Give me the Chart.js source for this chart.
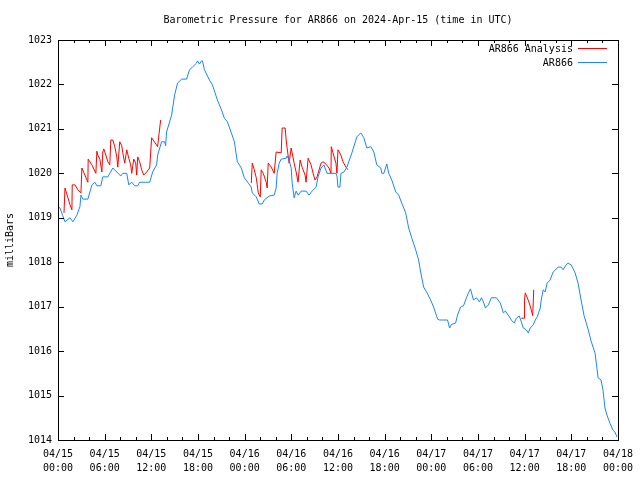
<!DOCTYPE html>
<html><head><meta charset="utf-8">
<script src="https://cdn.jsdelivr.net/npm/chart.js@4/dist/chart.umd.min.js"></script>
<style>html,body{margin:0;padding:0;background:#fff;} canvas{display:block;}</style>
</head><body>
<canvas id="c" width="640" height="480"></canvas>
<script>
// Hours since 2024-04-15 00:00 UTC
const blueHours = [
  0.0,0.26,0.6,0.90,1.54,1.92,2.43,2.82,2.95,3.20,
  3.84,4.36,4.74,5.00,5.51,5.76,6.41,7.05,7.56,8.07,
  8.33,8.84,9.10,9.48,9.86,10.25,10.50,11.79,12.17,12.68,
  12.81,13.32,13.71,13.84,13.96,14.61,14.99,15.37,15.89,16.53,
  16.91,17.29,17.81,17.94,18.19,18.45,18.58,18.83,19.47,19.86,
  20.50,21.01,21.39,21.78,22.29,22.68,23.06,23.57,23.96,24.47,
  24.85,24.98,25.49,25.88,26.26,26.52,27.16,27.80,28.05,28.18,
  28.44,28.70,29.34,29.46,29.72,29.98,30.11,30.36,30.62,30.87,
  31.26,31.90,32.28,32.67,33.18,33.44,33.82,34.20,34.59,35.74,
  35.87,36.00,36.25,36.38,36.77,37.15,37.79,38.43,38.94,39.33,
  39.71,40.23,40.61,40.99,41.51,41.64,41.89,42.28,42.53,42.92,
  43.43,43.81,44.20,44.71,45.09,45.48,45.99,46.37,46.63,47.02,
  47.40,47.91,48.30,48.81,49.07,50.09,50.35,50.60,51.12,51.37,
  51.76,52.14,52.52,52.78,53.04,53.42,53.81,54.19,54.45,54.70,
  54.96,55.34,55.73,56.37,56.88,57.26,57.52,57.90,58.29,58.67,
  58.93,59.31,59.57,59.83,60.21,60.47,60.72,61.11,61.37,61.62,
  62.01,62.13,62.39,62.64,62.90,63.28,63.67,64.31,64.69,64.95,
  65.33,65.59,65.98,66.49,66.87,67.26,67.64,68.15,68.54,69.05,
  69.31,69.44,69.82,70.07,70.33,70.59,70.97,71.36,71.61,71.87
];
const bluePressure = [
  1019.25,1019.22,1019.05,1018.91,1019.0,1018.91,1019.06,1019.25,1019.51,1019.42,
  1019.42,1019.74,1019.8,1019.72,1019.72,1019.92,1019.92,1020.12,1020.03,1019.94,
  1020.0,1020.0,1019.74,1019.8,1019.72,1019.72,1019.8,1019.8,1020.03,1020.19,
  1020.41,1020.71,1020.71,1020.62,1020.93,1021.31,1021.76,1022.03,1022.12,1022.12,
  1022.33,1022.39,1022.48,1022.53,1022.46,1022.53,1022.53,1022.33,1022.1,1021.99,
  1021.65,1021.43,1021.24,1021.16,1020.91,1020.71,1020.26,1020.12,1019.9,1019.78,
  1019.69,1019.56,1019.47,1019.31,1019.31,1019.4,1019.49,1019.51,1019.67,1020.0,
  1020.23,1020.32,1020.34,1020.39,1020.3,1020.12,1019.78,1019.45,1019.6,1019.51,
  1019.6,1019.6,1019.51,1019.6,1019.69,1019.92,1020.12,1020.19,1020.0,1020.0,
  1019.94,1019.69,1019.69,1020.0,1020.03,1020.14,1020.46,1020.82,1020.91,1020.8,
  1020.57,1020.6,1020.48,1020.19,1020.12,1020.0,1020.0,1020.21,1020.0,1019.85,
  1019.58,1019.51,1019.33,1019.11,1018.77,1018.55,1018.28,1018.05,1017.78,1017.44,
  1017.33,1017.15,1016.99,1016.72,1016.7,1016.7,1016.52,1016.6,1016.63,1016.81,
  1016.99,1017.02,1017.2,1017.31,1017.4,1017.15,1017.2,1017.11,1017.2,1017.11,
  1016.97,1017.04,1017.2,1017.2,1017.08,1016.86,1016.9,1016.81,1016.7,1016.63,
  1016.74,1016.79,1016.66,1016.52,1016.48,1016.41,1016.52,1016.59,1016.7,1016.77,
  1016.97,1017.15,1017.38,1017.33,1017.53,1017.6,1017.78,1017.89,1017.89,1017.83,
  1017.94,1017.98,1017.94,1017.76,1017.53,1017.15,1016.8,1016.5,1016.23,1015.96,
  1015.6,1015.4,1015.35,1015.13,1014.72,1014.56,1014.38,1014.22,1014.18,1014.07
];
const redHours = [
  0.77,0.90,1.28,1.54,1.79,1.83,2.18,2.56,2.95,3.07,
  3.46,3.84,3.88,4.36,4.87,5.00,5.12,5.38,5.64,5.76,
  5.89,6.15,6.41,6.66,6.79,7.05,7.30,7.56,7.69,7.94,
  8.20,8.33,8.58,8.84,9.10,9.35,9.48,9.74,9.99,10.12,
  10.25,10.50,10.76,11.02,11.40,11.79,12.04,12.81,13.0,13.2,
  18.0,
  24.85,24.98,25.24,25.49,25.62,25.75,26.01,26.13,26.39,26.77,
  26.90,27.03,27.42,27.80,28.05,28.70,28.82,29.21,29.34,29.46,
  29.72,29.98,30.11,30.36,30.62,30.87,31.13,31.39,31.77,31.90,
  32.16,32.54,32.80,33.05,33.31,33.82,34.08,34.33,34.85,35.10,
  35.14,35.36,35.74,35.87,36.00,36.38,36.64,37.03,37.28,
  48.0,
  59.57,59.95,59.99,60.08,60.34,60.60,60.85,61.04,61.17
];
const redPressure = [
  1019.11,1019.67,1019.45,1019.29,1019.18,1019.74,1019.74,1019.63,1019.56,1020.12,
  1019.96,1019.8,1020.32,1020.19,1020.0,1020.5,1020.41,1020.32,1020.03,1020.48,
  1020.55,1020.41,1020.26,1020.19,1020.75,1020.75,1020.6,1020.37,1020.14,1020.71,
  1020.62,1020.46,1020.23,1020.53,1020.34,1020.19,1020.0,1020.32,1020.23,1019.96,
  1020.37,1020.26,1020.08,1019.96,1020.03,1020.12,1020.8,1020.6,1020.9,1021.2,
  null,
  1019.78,1020.23,1020.08,1019.9,1019.74,1019.56,1019.47,1020.08,1020.0,1019.8,
  1019.67,1020.23,1020.14,1020.0,1020.48,1020.46,1021.02,1021.02,1020.75,1020.57,
  1020.23,1020.57,1020.46,1020.23,1020.03,1019.8,1020.3,1020.14,1019.96,1019.8,
  1020.34,1020.19,1020.0,1019.85,1019.92,1020.23,1020.26,1020.23,1020.12,1020.0,
  1020.6,1020.46,1020.23,1020.0,1020.53,1020.41,1020.26,1020.14,1020.08,
  null,
  1016.74,1016.74,1017.15,1017.31,1017.2,1017.08,1016.93,1016.8,1017.38
];
const xTickDates = ['04/15','04/15','04/15','04/15','04/16','04/16','04/16','04/16','04/17','04/17','04/17','04/17','04/18'];
const xTickTimes = ['00:00','06:00','12:00','18:00','00:00','06:00','12:00','18:00','00:00','06:00','12:00','18:00','00:00'];
const seriesLabels = ['AR866 Analysis', 'AR866'];
const seriesColors = ['#ff0000', '#1a85ff'];

const FONT = 'DejaVu Sans Mono';
Chart.defaults.font.family = FONT;
Chart.defaults.font.size = 10;
Chart.defaults.color = '#000';

const toPts = (xs, ys) => xs.map((h, i) => ({x: h, y: ys[i]}));

const framePlugin = {
  id: 'frame',
  afterDraw(chart) {
    const {ctx, chartArea: a, scales: {x, y}} = chart;
    ctx.save();
    ctx.strokeStyle = '#000';
    ctx.lineWidth = 1;
    ctx.beginPath();
    for (let h = x.min; h <= x.max; h += 2) {
      const px = Math.round(x.getPixelForValue(h)) + 0.5;
      const len = (h % 6 === 0) ? 6 : 3;
      ctx.moveTo(px, a.bottom); ctx.lineTo(px, a.bottom - len);
      ctx.moveTo(px, a.top); ctx.lineTo(px, a.top + len);
    }
    for (const t of y.ticks) {
      const py = Math.round(y.getPixelForValue(t.value)) + 0.5;
      ctx.moveTo(a.left, py); ctx.lineTo(a.left + 6, py);
      ctx.moveTo(a.right, py); ctx.lineTo(a.right - 6, py);
    }
    ctx.stroke();
    ctx.strokeRect(Math.round(a.left) + 0.5, Math.round(a.top) + 0.5,
                   Math.round(a.right - a.left), Math.round(a.bottom - a.top));
    // key (legend), gnuplot style: text then line sample, top right
    ctx.font = '10px "' + FONT + '"';
    ctx.textAlign = 'right';
    ctx.textBaseline = 'middle';
    chart.data.datasets.forEach((ds, i) => {
      const yy = Math.round(a.top + 8 + 14 * i) + 0.5;
      const x2 = a.right - 11, x1 = x2 - 29;
      ctx.strokeStyle = ds.borderColor;
      ctx.beginPath(); ctx.moveTo(x1, yy); ctx.lineTo(x2, yy); ctx.stroke();
      ctx.fillStyle = '#000';
      ctx.fillText(ds.label, x1 - 5, yy + 1);
    });
    ctx.restore();
  }
};

new Chart(document.getElementById('c'), {
  type: 'line',
  data: {
    datasets: [
      { label: seriesLabels[0], data: toPts(redHours, redPressure), borderColor: seriesColors[0],
        backgroundColor: seriesColors[0], borderWidth: 1, pointRadius: 0, tension: 0, spanGaps: false, order: 2 },
      { label: seriesLabels[1], data: toPts(blueHours, bluePressure), borderColor: seriesColors[1],
        backgroundColor: seriesColors[1], borderWidth: 1, pointRadius: 0, tension: 0, order: 1 }
    ]
  },
  options: {
    responsive: false,
    animation: false,
    events: [],
    parsing: true,
    layout: { padding: { left: 0, right: 20, top: 0, bottom: 0 } },
    plugins: {
      legend: { display: false },
      tooltip: { enabled: false },
      title: {
        display: true, fullSize: false,
        text: 'Barometric Pressure for AR866 on 2024-Apr-15 (time in UTC)',
        font: { family: FONT, size: 10, weight: 'normal', lineHeight: 1.2 },
        color: '#000',
        padding: { top: 14, bottom: 14 }
      }
    },
    scales: {
      x: {
        type: 'linear', min: 0, max: 72,
        grid: { display: false, drawTicks: false },
        border: { display: false },
        ticks: {
          stepSize: 6, autoSkip: false, maxRotation: 0, padding: 7,
          font: { family: FONT, size: 10, lineHeight: 1.4 },
          callback: (v) => { const i = Math.round(v / 6); return [xTickDates[i], xTickTimes[i]]; }
        },
        afterFit: (s) => { s.height = 40; }
      },
      y: {
        type: 'linear', min: 1014, max: 1023,
        grid: { display: false, drawTicks: false },
        border: { display: false },
        ticks: { stepSize: 1, padding: 6, font: { family: FONT, size: 10 }, callback: (v) => String(v) },
        title: { display: true, text: 'milliBars', padding: { top: 4, bottom: 0 }, font: { family: FONT, size: 10 } },
        afterFit: (s) => { s.width = 58; }
      }
    }
  },
  plugins: [framePlugin]
});
</script></body></html>
